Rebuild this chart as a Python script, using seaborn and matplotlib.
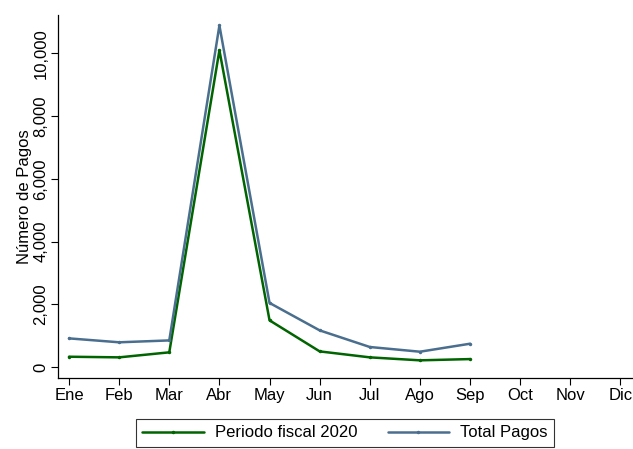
import numpy as np
import pandas as pd
import matplotlib
matplotlib.use("Agg")
import matplotlib.pyplot as plt
import seaborn as sns
from matplotlib.ticker import FuncFormatter

months = ["Ene", "Feb", "Mar", "Abr", "May", "Jun", "Jul", "Ago", "Sep", "Oct", "Nov", "Dic"]
obs_months = ["Ene", "Feb", "Mar", "Abr", "May", "Jun", "Jul", "Ago", "Sep"]
periodo_2020 = [330, 310, 470, 10100, 1490, 500, 310, 215, 255]
total_pagos = [915, 790, 850, 10890, 2045, 1170, 640, 490, 745]
series_names = ["Periodo fiscal 2020", "Total Pagos"]
colors = ["#006400", "#4A6E8E"]

sns.set_theme(style="white")
plt.rcParams['font.family'] = ['Liberation Sans', 'DejaVu Sans']
plt.rcParams['text.color'] = 'black'
plt.rcParams['axes.labelcolor'] = 'black'
plt.rcParams['xtick.color'] = 'black'
plt.rcParams['ytick.color'] = 'black'

df = pd.DataFrame({
    "mes": [months.index(m) for m in obs_months] * 2,
    "valor": periodo_2020 + total_pagos,
    "serie": [series_names[0]] * len(obs_months) + [series_names[1]] * len(obs_months),
})

fig = plt.figure(figsize=(6.33, 4.49), dpi=100)
ax = fig.add_axes([0.0916, 0.158, 0.9084, 0.809])
sns.lineplot(data=df, x="mes", y="valor", hue="serie", palette=colors,
             marker="o", markersize=2.5, markeredgewidth=0, linewidth=1.8, ax=ax)

ax.set_xlim(-0.22, 11.25)
ax.set_ylim(-350, 11230)
ax.set_xticks(range(len(months)))
ax.set_xticklabels(months, fontsize=12)
ax.set_yticks([0, 2000, 4000, 6000, 8000, 10000])
ax.yaxis.set_major_formatter(FuncFormatter(lambda v, p: f"{int(v):,}"))
for lab in ax.get_yticklabels():
    lab.set_rotation(90)
    lab.set_va("center")
    lab.set_fontsize(12)
ax.set_xlabel("")
ax.set_ylabel("Número de Pagos", fontsize=12, labelpad=1)
ax.tick_params(axis="both", direction="out", length=5, width=0.8, color="black",
               labelcolor="black", bottom=True, left=True, pad=2)
for s in ["top", "right"]:
    ax.spines[s].set_visible(False)
for s in ["left", "bottom"]:
    ax.spines[s].set_color("black")
    ax.spines[s].set_linewidth(0.9)

handles, labels = ax.get_legend_handles_labels()
ax.get_legend().remove()
leg = fig.legend(handles, labels, loc="lower center",
                 bbox_to_anchor=(345 / 633, 2 / 449), bbox_transform=fig.transFigure,
                 ncol=2, frameon=True, fancybox=False, edgecolor="black",
                 fontsize=12, handlelength=3.7, columnspacing=1.8, borderpad=0.4,
                 handletextpad=0.65, borderaxespad=0)
leg.get_frame().set_linewidth(0.8)
fig.savefig("out.png", dpi=100)
